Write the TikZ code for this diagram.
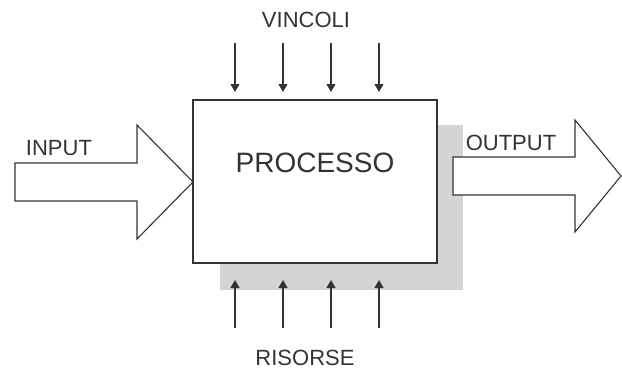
\documentclass[tikz,border=0pt]{standalone}
\usepackage{fontspec}
\setmainfont{Liberation Sans}
\usetikzlibrary{arrows.meta}
\definecolor{ink}{HTML}{333333}
\definecolor{shadowgray}{HTML}{D4D4D4}
\begin{document}
\begin{tikzpicture}[x=1pt,y=-1pt,
  lbl/.style={font=\fontsize{22}{22}\selectfont, text=ink, inner sep=0pt},
  small/.style={draw=ink, line width=1.3pt, -{Triangle[width=9pt,length=8pt]}},
  fat/.style={draw=ink, line width=1.1pt, fill=white, line join=miter}]
\useasboundingbox (0,0) rectangle (622,372);
% shadow
\fill[shadowgray] (220,125) rectangle (463,290);
% box
\node[draw=ink, line width=1.5pt, fill=white, minimum width=244pt, minimum height=163pt, inner sep=0pt] (proc) at (315,181.5) {};
\node[font=\fontsize{28}{28}\selectfont, text=ink, inner sep=0pt] (ptext) at (315,163) {PROCESSO};
% input arrow
\draw[fat] (15,163) -- (137,163) -- (137,125) -- (193,182) -- (137,239) -- (137,201) -- (15,201) -- cycle;
\node[lbl] (inp) at (59,148) {INPUT};
% output arrow
\draw[fat] (453,157) -- (575,157) -- (575,120) -- (621,176) -- (575,232) -- (575,195) -- (453,195) -- cycle;
\node[lbl] (outp) at (511,143) {OUTPUT};
% vincoli
\node[lbl] (vin) at (306,20) {VINCOLI};
\foreach \x [count=\i] in {235,283,331,379}{
  \coordinate (t\i) at (\x,43);
  \coordinate (tb\i) at (\x,92);
  \draw[small] (t\i) -- (tb\i);
  \coordinate (b\i) at (\x,328);
  \coordinate (bb\i) at (\x,280);
  \draw[small] (b\i) -- (bb\i);
}
\node[lbl] (ris) at (305,358) {RISORSE};
\end{tikzpicture}
\end{document}
